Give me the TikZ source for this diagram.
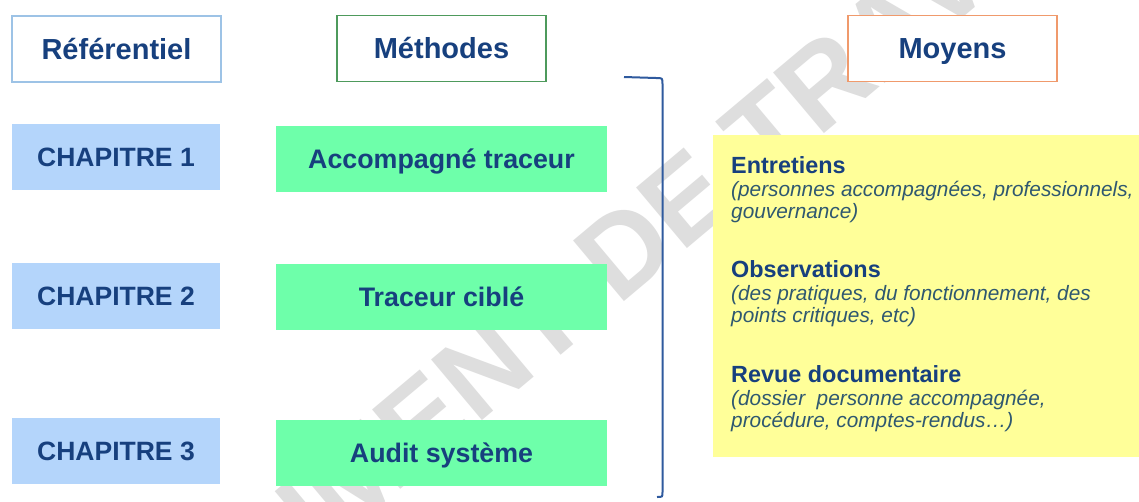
\documentclass[tikz,border=0pt]{standalone}
\usepackage{fontspec}
\setmainfont{Liberation Sans}
\begin{document}
\definecolor{navy}{HTML}{17407E}
\definecolor{itc}{HTML}{2F5870}
\definecolor{refb}{HTML}{9DC3E6}
\definecolor{metb}{HTML}{4E9A5C}
\definecolor{moyb}{HTML}{F09A6C}
\definecolor{chapf}{HTML}{B4D5FB}
\definecolor{metf}{HTML}{6EFFAA}
\definecolor{yelf}{HTML}{FFFF99}
\definecolor{brk}{HTML}{2F5A9E}
\definecolor{wmc}{HTML}{DEDEDE}
\tikzset{
  head/.style={draw, line width=1.2pt, fill=white, minimum width=209pt, minimum height=66pt, inner sep=0pt,
    text height=20.8pt, text depth=0pt,
    text=navy, font=\fontsize{29}{34}\selectfont\bfseries},
  chap/.style={fill=chapf, minimum width=208pt, minimum height=66pt, inner sep=0pt,
    text height=19pt, text depth=0pt,
    text=navy, font=\fontsize{26.5}{31}\selectfont\bfseries},
  meth/.style={fill=metf, minimum width=331pt, minimum height=66pt, inner sep=0pt,
    text height=19.2pt, text depth=0pt,
    text=navy, font=\fontsize{26.8}{31}\selectfont\bfseries},
  ybold/.style={anchor=base west, inner sep=0pt, text=navy, font=\fontsize{23.4}{27}\selectfont\bfseries},
  yit/.style={anchor=base west, inner sep=0pt, text=itc, font=\fontsize{20.8}{25}\selectfont\itshape},
}
\begin{tikzpicture}[x=1pt,y=-1pt]
\useasboundingbox (0,0) rectangle (1139,501);
\fill[white] (0,0) rectangle (1139,501);
\begin{scope}
\clip (0,0) rectangle (1139,501);
\node[text=wmc, rotate=40, inner sep=0pt, font=\fontsize{115}{115}\selectfont\bfseries] (wm) at (584,284) {DOCUMENT DE TRAVAIL};
\end{scope}
% headers
\node[head, draw=refb] (ref) at (116.5,49) {Référentiel};
\node[head, draw=metb] (met) at (441.5,48.5) {Méthodes};
\node[head, draw=moyb] (moy) at (952.5,48.5) {Moyens};
% chapters
\node[chap] (c1) at (116,156.5) {CHAPITRE 1};
\node[chap] (c2) at (116,296) {CHAPITRE 2};
\node[chap] (c3) at (116,451) {CHAPITRE 3};
% methods
\node[meth] (m1) at (441.5,158.5) {Accompagné traceur};
\node[meth] (m2) at (441.5,297) {Traceur ciblé};
\node[meth] (m3) at (441.5,453) {Audit système};
% bracket
\coordinate (b1) at (624,77);
\coordinate (b2) at (662.5,84);
\coordinate (b3) at (662.5,492);
\coordinate (b4) at (657,497);
\draw[brk, line width=2pt] (b1) -- (656,78) .. controls (662.5,78) .. (b2) -- (b3) .. controls (662.5,497) .. (b4);
% yellow box
\fill[yelf] (713,135) rectangle (1139,457);
\node[ybold] (e1) at (731,173) {Entretiens};
\node[yit] (e2) at (731,196) {(personnes accompagnées, professionnels,};
\node[yit] (e3) at (731,218.5) {gouvernance)};
\node[ybold] (o1) at (731,277) {Observations};
\node[yit] (o2) at (731,300) {(des pratiques, du fonctionnement, des};
\node[yit] (o3) at (731,322.5) {points critiques, etc)};
\node[ybold] (r1) at (731,382) {Revue documentaire};
\node[yit] (r2) at (731,405) {(dossier\ \ personne accompagnée,};
\node[yit] (r3) at (731,427.5) {procédure, comptes-rendus…)};
\end{tikzpicture}
\end{document}
